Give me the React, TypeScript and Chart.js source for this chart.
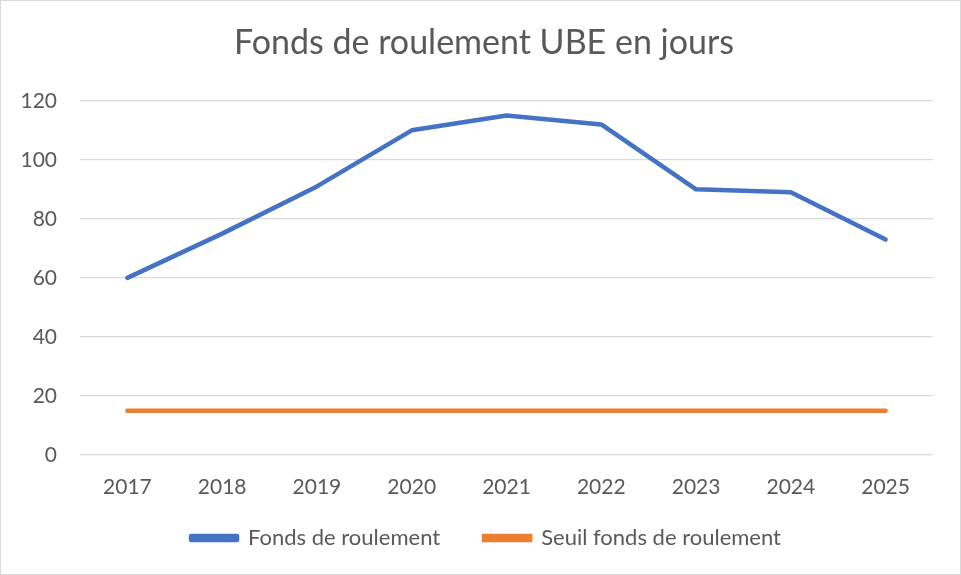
import React, { useEffect, useRef } from "react";
import { Chart, registerables } from "chart.js";

Chart.register(...registerables);

const years = ["2017", "2018", "2019", "2020", "2021", "2022", "2023", "2024", "2025"];
const fondsDeRoulement = [60, 75, 91, 110, 115, 112, 90, 89, 73];
const seuilFonds = [15, 15, 15, 15, 15, 15, 15, 15, 15];
const title = "Fonds de roulement UBE en jours";
const FONT = "Lato, 'Open Sans', sans-serif";

const boxShift = {
  id: "boxShift",
  afterLayout(chart: any) {
    const l = chart.legend;
    if (l) {
      l.top -= 15;
      l.bottom -= 15;
      l.left += 10;
      l.right += 10;
    }
    const t = chart.titleBlock;
    if (t) {
      t.left += 8;
      t.right += 8;
    }
  },
};

export default function App() {
  const ref = useRef<HTMLCanvasElement | null>(null);
  useEffect(() => {
    document.body.style.margin = "0";
    const chart = new Chart(ref.current!, {
      type: "line",
      data: {
        labels: years,
        datasets: [
          {
            label: "Fonds de roulement",
            data: fondsDeRoulement,
            borderColor: "#4472C4",
            backgroundColor: "#4472C4",
            borderWidth: 4.5,
            pointRadius: 0,
            borderCapStyle: "round",
            borderJoinStyle: "round",
            tension: 0,
          },
          {
            label: "Seuil fonds de roulement",
            data: seuilFonds,
            borderColor: "#ED7D31",
            backgroundColor: "#ED7D31",
            borderWidth: 4.5,
            pointRadius: 0,
            borderCapStyle: "round",
            tension: 0,
          },
        ],
      },
      plugins: [boxShift],
      options: {
        animation: false,
        responsive: false,
        maintainAspectRatio: false,
        layout: { padding: { left: 18, right: 27, top: 8, bottom: 0 } },
        plugins: {
          title: {
            display: true,
            text: title,
            color: "#595959",
            font: { family: FONT, size: 34, weight: "normal" },
            padding: { top: 14, bottom: 37 },
          },
          legend: {
            position: "bottom",
            labels: {
              color: "#595959",
              font: { family: FONT, size: 22 },
              boxWidth: 46,
              boxHeight: 4,
              padding: 44,
            },
          },
          tooltip: { enabled: false },
        },
        scales: {
          x: {
            offset: true,
            grid: { display: false, drawTicks: false },
            border: { display: false },
            ticks: { color: "#595959", font: { family: FONT, size: 21 }, padding: 20 },
            afterFit: (scale: any) => {
              scale.height = 43;
            },
          },
          y: {
            min: 0,
            max: 120,
            ticks: { stepSize: 20, color: "#595959", font: { family: FONT, size: 21 }, padding: 23 },
            grid: { color: "#d9d9d9", lineWidth: 1.3, drawTicks: false },
            border: { display: false },
            afterFit: (scale: any) => {
              scale.width = 61;
            },
          },
        },
      },
    });
    return () => chart.destroy();
  }, []);
  return (
    <div style={{ width: 959, height: 573, border: "1px solid #d9d9d9", background: "#fff" }}>
      <canvas ref={ref} width={959} height={573} style={{ display: "block" }} />
    </div>
  );
}
